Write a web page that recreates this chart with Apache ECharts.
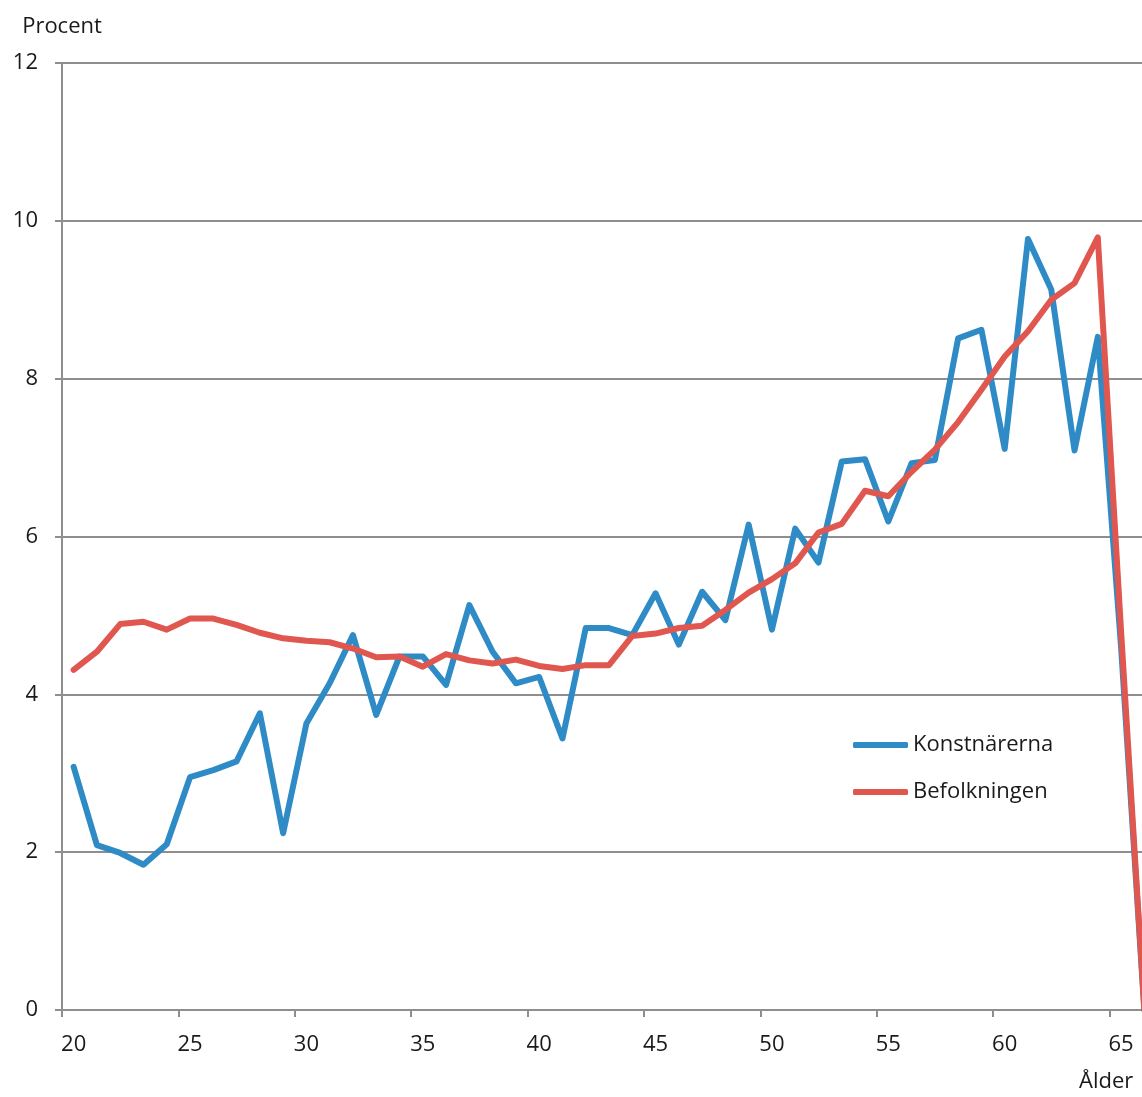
<!DOCTYPE html>
<html>
<head>
<meta charset="utf-8">
<script src="https://cdn.jsdelivr.net/npm/echarts@6/dist/echarts.min.js"></script>
<style>
    html, body { margin: 0; padding: 0; background: #fff; overflow: hidden; }
    /* plot continues past the right edge, like the cropped original */
    #chart { width: 1156px; height: 1097px; }
</style>
</head>
<body>
<div id="chart"></div>
<script>
    // ålder 20..66
    const ages = [];
    for (let a = 20; a <= 66; a++) ages.push(String(a));

    // andel i procent
    const konstnarerna = [
        3.08, 2.09, 1.99, 1.84, 2.10, 2.95, 3.04, 3.15, 3.76, 2.24,
        3.63, 4.14, 4.75, 3.74, 4.48, 4.48, 4.12, 5.13, 4.54, 4.14,
        4.22, 3.44, 4.84, 4.84, 4.75, 5.28, 4.63, 5.30, 4.94, 6.15,
        4.82, 6.10, 5.67, 6.95, 6.98, 6.19, 6.93, 6.97, 8.51, 8.62,
        7.11, 9.77, 9.13, 7.09, 8.53, 4.6, 0
    ];
    const befolkningen = [
        4.31, 4.54, 4.89, 4.92, 4.82, 4.96, 4.96, 4.88, 4.78, 4.71,
        4.68, 4.66, 4.58, 4.47, 4.48, 4.35, 4.51, 4.43, 4.39, 4.44,
        4.36, 4.32, 4.37, 4.37, 4.74, 4.77, 4.84, 4.87, 5.07, 5.29,
        5.46, 5.66, 6.05, 6.16, 6.58, 6.51, 6.82, 7.10, 7.45, 7.86,
        8.28, 8.60, 9.00, 9.21, 9.79, 4.8, 0
    ];

    const yTicks = { min: 0, max: 12, interval: 2 };
    const seriesNames = ["Konstnärerna", "Befolkningen"];

    const font = "'Open Sans', 'Noto Sans', sans-serif";
    const gray = "#8e8e8e";
    const ink = "#1a1a1a";

    const chart = echarts.init(document.getElementById("chart"), null, { renderer: "canvas" });

    const option = {
        animation: false,
        backgroundColor: "#fff",
        color: ["#2f8bc6", "#e0574f"],
        textStyle: { fontFamily: font },
        grid: {
            left: 62,
            top: 63,
            bottom: 87,
            right: 0,
            containLabel: false
        },
        legend: {
            orient: "vertical",
            left: 853,
            top: 734,
            padding: 0,
            icon: "roundRect",
            itemWidth: 55,
            itemHeight: 6,
            itemGap: 25,
            textStyle: { fontFamily: font, fontSize: 22, color: ink },
            data: seriesNames
        },
        xAxis: {
            type: "category",
            data: ages,
            boundaryGap: true,
            axisLine: { lineStyle: { color: gray, width: 2 } },
            axisTick: { show: true, interval: 4, length: 7, lineStyle: { color: gray, width: 2 } },
            axisLabel: { interval: 4, margin: 24, fontSize: 22, color: ink, fontFamily: font },
            splitLine: { show: false }
        },
        yAxis: {
            type: "value",
            min: yTicks.min,
            max: yTicks.max,
            interval: yTicks.interval,
            name: "Procent",
            nameLocation: "end",
            nameGap: 25,
            nameTextStyle: { fontSize: 22, color: ink, fontFamily: font },
            axisLine: { show: true, lineStyle: { color: gray, width: 2 } },
            axisTick: { show: true, length: 7, lineStyle: { color: gray, width: 2 } },
            axisLabel: { margin: 24, fontSize: 22, color: ink, fontFamily: font },
            splitLine: { show: true, lineStyle: { color: gray, width: 2 } }
        },
        graphic: [
            {
                type: "text",
                left: 1079,
                top: 1071,
                style: { text: "Ålder", font: "22px " + font, fill: ink }
            }
        ],
        series: [
            {
                name: seriesNames[0],
                type: "line",
                data: konstnarerna,
                showSymbol: false,
                symbol: "none",
                lineStyle: { width: 6, join: "round", cap: "round" }
            },
            {
                name: seriesNames[1],
                type: "line",
                data: befolkningen,
                showSymbol: false,
                symbol: "none",
                lineStyle: { width: 6, join: "round", cap: "round" }
            }
        ]
    };

    chart.setOption(option);
</script>
</body>
</html>
